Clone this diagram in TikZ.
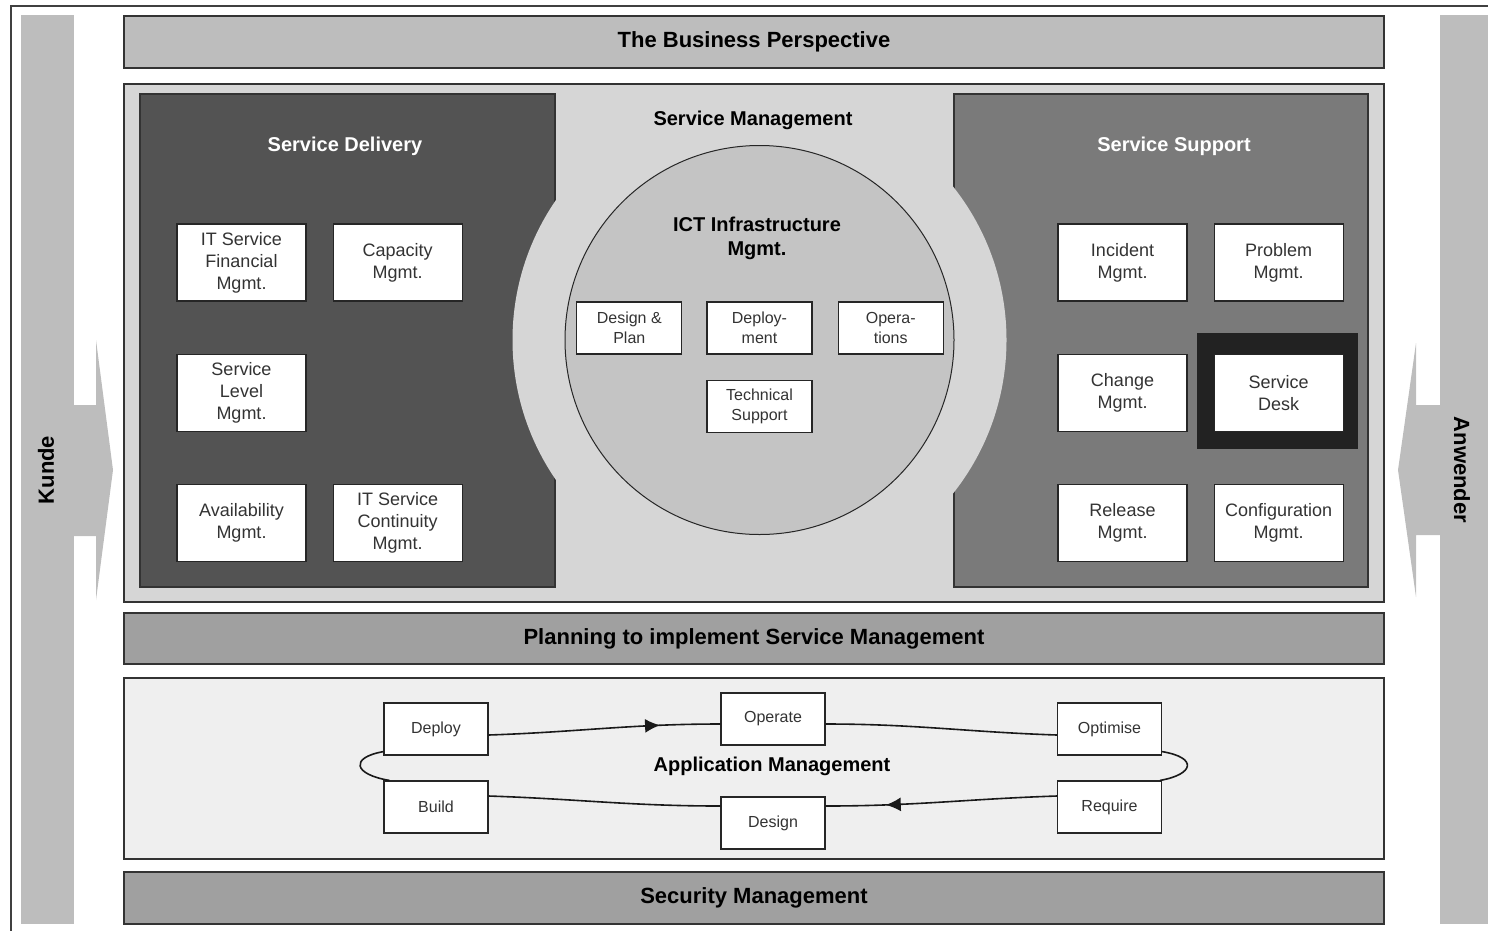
\documentclass[tikz,border=0pt]{standalone}
\usepackage{fontspec}
\setmainfont{Liberation Sans}
\usetikzlibrary{arrows.meta,decorations.markings,positioning}

\definecolor{bandgray}{HTML}{BDBDBD}
\definecolor{smgray}{HTML}{D6D6D6}
\definecolor{delivgray}{HTML}{535353}
\definecolor{suppgray}{HTML}{7A7A7A}
\definecolor{ictgray}{HTML}{C4C4C4}
\definecolor{plangray}{HTML}{A0A0A0}
\definecolor{appgray}{HTML}{EFEFEF}
\definecolor{deskblack}{HTML}{222222}
\definecolor{boxtext}{HTML}{333333}

\begin{document}
\begin{tikzpicture}[x=1pt,y=-1pt]
  \tikzstyle{band} = [rectangle,draw=black!80,line width=1.3pt,minimum width=1260pt,inner sep=0pt,
                      font=\fontsize{22}{26}\selectfont\bfseries]
  \tikzstyle{area} = [draw=black!80,line width=1.3pt]
  \tikzstyle{mgmt} = [rectangle,draw=black!85,line width=1.2pt,fill=white,minimum width=129pt,
                      minimum height=77pt,align=center,inner sep=1pt,text=boxtext,
                      font=\fontsize{18}{22}\selectfont]
  \tikzstyle{ictbox} = [mgmt,minimum width=105pt,minimum height=52pt,font=\fontsize{16}{20}\selectfont]
  \tikzstyle{appbox} = [mgmt,minimum width=104pt,minimum height=52pt,font=\fontsize{16}{20}\selectfont]
  \tikzstyle{title} = [inner sep=0pt,font=\fontsize{20}{24}\selectfont\bfseries,align=center]
  \tikzstyle{flow} = [draw=black!90,line width=1.6pt]
  \tikzstyle{midarrow} = [postaction={decorate},decoration={markings,
                          mark=at position 0.74 with {\arrow{Latex[length=15pt,width=14pt]}}}]

  \useasboundingbox (0,0) rectangle (1488,930);
  \draw[black!75,line width=1.5pt] (11,935) -- (11,6) -- (1495,6);

  \fill[bandgray] (21,15) rectangle (74,924);
  \fill[bandgray] (74,405) -- (96,405) -- (96,340) -- (113,470) -- (96,600) -- (96,536) -- (74,536) -- cycle;
  \node[inner sep=0pt,rotate=90,font=\fontsize{22}{26}\selectfont\bfseries] (kunde) at (46,470) {Kunde};
  \fill[bandgray] (1440,15) rectangle (1488,924);
  \fill[bandgray] (1440,405) -- (1416,405) -- (1416,343) -- (1398,470) -- (1416,597) -- (1416,535) -- (1440,535) -- cycle;
  \node[inner sep=0pt,rotate=-90,font=\fontsize{22}{26}\selectfont\bfseries] (anwender) at (1462,470) {Anwender};

  \node[band,fill=bandgray,minimum height=52pt] (business) at (754,42) {The Business Perspective};

  \draw[area,fill=smgray] (124,84) rectangle (1384,602);
  \draw[area,fill=delivgray] (140,94) rectangle (555,587);
  \draw[area,fill=suppgray] (954,94) rectangle (1368,587);
  \fill[smgray] (759.5,340) circle (247pt);
  \node[title] (sm) at (753,120) {Service Management};
  \node[title,text=white] (delivery) at (345,146) {Service Delivery};
  \node[title,text=white] (support) at (1174,146) {Service Support};

  \node[mgmt] (finance) at (241.5,262.5) {IT Service\\Financial\\Mgmt.};
  \node[mgmt,right=26pt of finance] (capacity) {Capacity\\Mgmt.};
  \node[mgmt,below=52pt of finance] (level) {Service\\Level\\Mgmt.};
  \node[mgmt,below=52pt of level] (availability) {Availability\\Mgmt.};
  \node[mgmt,right=26pt of availability] (continuity) {IT Service\\Continuity\\Mgmt.};

  \fill[deskblack] (1197,333) rectangle (1358,449);
  \node[mgmt] (incident) at (1122.5,262.5) {Incident\\Mgmt.};
  \node[mgmt,right=26pt of incident] (problem) {Problem\\Mgmt.};
  \node[mgmt,below=52pt of incident] (change) {Change\\Mgmt.};
  \node[mgmt,right=26pt of change] (desk) {Service\\Desk};
  \node[mgmt,below=52pt of change] (release) {Release\\Mgmt.};
  \node[mgmt,right=26pt of release] (config) {Configuration\\Mgmt.};

  \node[circle,draw=black!85,line width=1pt,fill=ictgray,minimum size=389pt] (ict) at (759.5,340) {};
  \node[title] (icttitle) at (757,238) {ICT Infrastructure\\Mgmt.};
  \node[ictbox] (deployment) at (759.5,328) {Deploy-\\ment};
  \node[ictbox,left=24pt of deployment] (designplan) {Design \&\\Plan};
  \node[ictbox,right=25pt of deployment] (operations) {Opera-\\tions};
  \node[ictbox,below=25pt of deployment] (technical) {Technical\\Support};

  \node[band,fill=plangray,minimum height=51pt] (planning) at (754,638.5) {Planning to implement Service Management};

  \draw[area,fill=appgray] (124,678) rectangle (1384,859);
  \node[appbox] (deploy) at (436,729) {Deploy};
  \node[appbox] (operate) at (773,719) {Operate};
  \node[appbox] (optimise) at (1109.5,729) {Optimise};
  \node[appbox] (build) at (436,807) {Build};
  \node[appbox] (design) at (773,823) {Design};
  \node[appbox] (require) at (1109.5,807) {Require};
  \node[title] (appmgmt) at (772,766) {Application Management};

  \draw[flow,midarrow] ([yshift=-6pt]deploy.east) .. controls +(90,-3) and +(-90,0) .. ([yshift=-5pt]operate.west);
  \draw[flow] ([yshift=-5pt]operate.east) .. controls +(90,0) and +(-90,-3) .. ([yshift=-6pt]optimise.west);
  \draw[flow] ([yshift=4pt]optimise.south east) .. controls +(36,6) and +(34,-6) .. ([xshift=-2pt]require.north east);
  \draw[flow,midarrow] ([yshift=11pt]require.west) .. controls +(-90,3) and +(90,0) .. ([yshift=17pt]design.east);
  \draw[flow] ([yshift=17pt]design.west) .. controls +(-90,0) and +(90,3) .. ([yshift=11pt]build.east);
  \draw[flow] ([xshift=6pt]build.north west) .. controls +(-36,-6) and +(-34,6) .. ([yshift=4pt]deploy.south west);

  \node[band,fill=plangray,minimum height=52pt] (security) at (754,898) {Security Management};
\end{tikzpicture}
\end{document}
